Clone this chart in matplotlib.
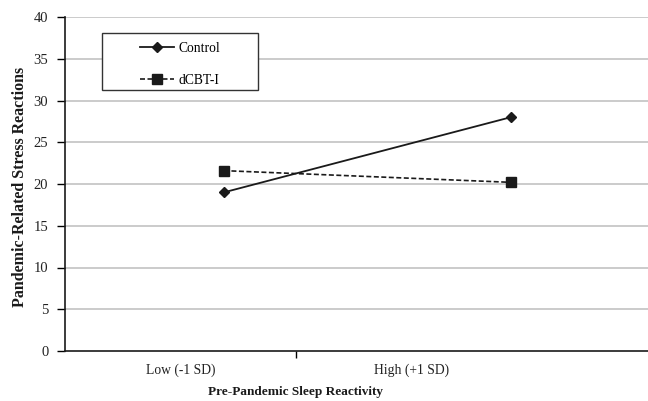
import matplotlib
matplotlib.use("Agg")
import matplotlib.pyplot as plt
import matplotlib.patches as mpatches

# categories / data
categories = ["Low (-1 SD)", "High (+1 SD)"]
cat_pos = [0.5, 1.5]          # label centres on the category axis
point_x = [0.688, 1.93]       # where the points sit in the original figure
control = [19.0, 28.0]
dcbti = [21.6, 20.2]
y_ticks = [0, 5, 10, 15, 20, 25, 30, 35, 40]

plt.rcParams['font.family'] = ['Liberation Serif', 'DejaVu Serif']

fig = plt.figure(figsize=(6.48, 4.01), dpi=100)
ax = fig.add_axes([65 / 648, 1 - 351 / 401, 583 / 648, 334 / 401])

ax.set_ylim(0, 40)
ax.set_xlim(0, 583 / 231)
ax.set_yticks(y_ticks)
for v in y_ticks[1:]:
    ax.axhline(v, color='#bdbdbd', lw=1.1, zorder=0)

ax.plot(point_x, control, color='#1a1a1a', lw=1.3, marker='D', ms=5,
        label='Control', zorder=3)
ax.plot(point_x, dcbti, color='#1a1a1a', lw=1.2, ls=(0, (3, 1.5)), marker='s',
        ms=7, label='dCBT-I', zorder=3)

# category axis: one tick between categories, labels centred in each bin
ax.set_xticks([1.0])
ax.set_xticklabels([''])
for p, c in zip(cat_pos, categories):
    ax.text(p, -0.058, c, transform=ax.get_xaxis_transform(), ha='center',
            va='center', fontsize=9.8, color='#222222')

for s in ['top', 'right']:
    ax.spines[s].set_visible(False)
for s in ['left', 'bottom']:
    ax.spines[s].set_color('#1a1a1a')
    ax.spines[s].set_linewidth(1.2)

ax.tick_params(axis='y', direction='out', length=6, width=1, labelsize=10.5,
               labelcolor='#222222', pad=6)
ax.tick_params(axis='x', direction='out', length=5, width=1)

ax.text((296 - 65) / 583, -0.123, 'Pre-Pandemic Sleep Reactivity',
        transform=ax.transAxes, ha='center', va='center', fontsize=9.5,
        fontweight='bold', color='#1a1a1a')
ax.text(-0.078, (351 - 187) / 334, 'Pandemic-Related Stress Reactions',
        transform=ax.transAxes, ha='center', va='center', rotation=90,
        fontsize=11.5, fontweight='bold', color='#1a1a1a')

# legend box drawn by hand, entries centred inside
frame = mpatches.Rectangle((37 / 583, (351 - 90) / 334), 156 / 583, 57 / 334,
                           transform=ax.transAxes, facecolor='white',
                           edgecolor='#333333', lw=1.0, zorder=4)
ax.add_patch(frame)
leg = ax.legend(loc='center', bbox_to_anchor=(0.197, 0.858), frameon=False,
                fontsize=9.8, handlelength=2.5, handletextpad=0.3,
                labelspacing=1.35)
leg.set_zorder(5)

fig.savefig('out.png', dpi=100)
